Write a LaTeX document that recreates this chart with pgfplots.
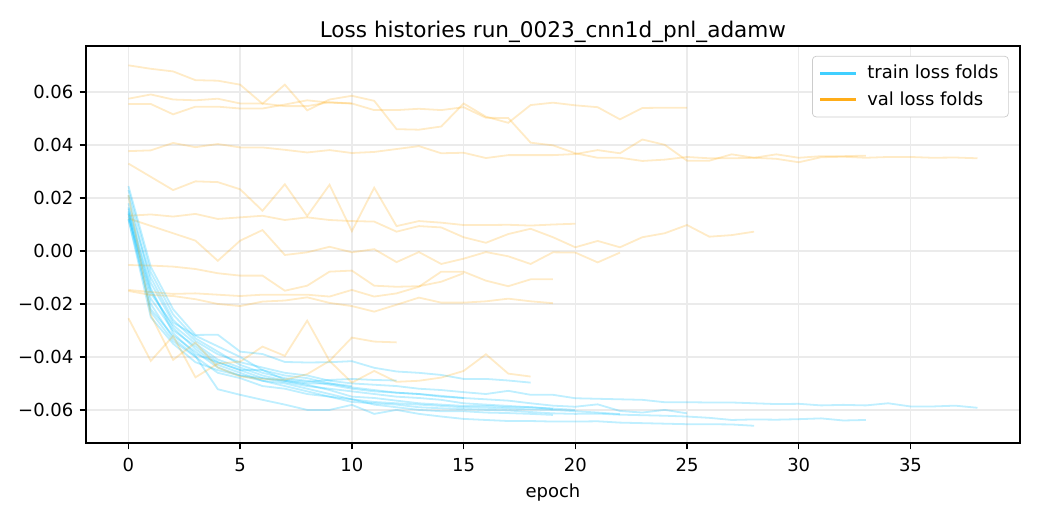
\documentclass[border=0pt]{standalone}
\usepackage{fontspec}
\setmainfont{DejaVu Sans}
\usepackage{pgfplots}
\pgfplotsset{compat=1.18}
\definecolor{trainc}{RGB}{0,191,255}
\definecolor{valc}{RGB}{255,165,0}
\begin{document}
\begin{tikzpicture}
\path[use as bounding box] (0,0) rectangle (578.16pt,289.08pt);
\begin{axis}[
  at={(47.8pt,42.8pt)}, anchor=south west,
  scale only axis, width=519.2pt, height=220.7pt,
  xmin=-1.9, xmax=39.9, ymin=-0.0725, ymax=0.0774,
  xtick={0,5,10,15,20,25,30,35},
  ytick={-0.06,-0.04,-0.02,0,0.02,0.04,0.06},
  yticklabels={−0.06,−0.04,−0.02,0.00,0.02,0.04,0.06},
  /pgf/number format/assume math mode=true,
  tick label style={font=\fontsize{10}{12}\selectfont},
  xticklabel style={yshift=-1.5pt},
  tick align=outside, tick pos=lower,
  major tick length=3.5pt,
  tick style={black, line width=0.8pt},
  axis line style={line width=0.8pt},
  xmajorgrids, ymajorgrids, grid style={black!8, line width=0.8pt},
  scaled y ticks=false,
  title={Loss histories run\_0023\_cnn1d\_pnl\_adamw},
  title style={font=\fontsize{12}{14}\selectfont, yshift=-7.5pt},
  xlabel={epoch},
  xlabel style={font=\fontsize{10}{12}\selectfont},
  legend style={at={(0.988,0.975)}, anchor=north east, draw=black!20, rounded corners=2pt,
    font=\fontsize{10}{12}\selectfont, inner xsep=3.5pt, inner ysep=3pt, row sep=1.5pt,
    /tikz/every odd column/.append style={column sep=3.5pt}},
  legend cell align=left,
  legend image code/.code={\draw[#1] (0pt,0pt) -- (20pt,0pt);},
  trn/.style={trainc, line width=1pt, opacity=0.25, forget plot},
  val/.style={valc, line width=1pt, opacity=0.22, forget plot},
]
\addlegendimage{trainc, opacity=0.75, line width=1.5pt}
\addlegendentry{train loss folds}
\addlegendimage{valc, opacity=0.9, line width=1.5pt}
\addlegendentry{val loss folds}

% fold: 25
\addplot[trn] coordinates {(0,0.0230)(1,-0.0080)(2,-0.0240)(3,-0.0330)(4,-0.0380)(5,-0.0430)(6,-0.0460)(7,-0.0480)(8,-0.0490)(9,-0.0505)(10,-0.0520)(11,-0.0530)(12,-0.0535)(13,-0.0540)(14,-0.0547)(15,-0.0555)(16,-0.0560)(17,-0.0565)(18,-0.0575)(19,-0.0584)(20,-0.0588)(21,-0.0579)(22,-0.0604)(23,-0.0610)(24,-0.0600)(25,-0.0613)};
\addplot[val] coordinates {(0,0.0701)(1,0.0688)(2,0.0678)(3,0.0645)(4,0.0643)(5,0.0628)(6,0.0556)(7,0.0628)(8,0.0531)(9,0.0572)(10,0.0586)(11,0.0567)(12,0.0460)(13,0.0458)(14,0.0470)(15,0.0557)(16,0.0507)(17,0.0484)(18,0.0551)(19,0.0560)(20,0.0550)(21,0.0543)(22,0.0497)(23,0.0540)(24,0.0541)(25,0.0541)};
% fold: 10
\addplot[trn] coordinates {(0,0.0120)(1,-0.0250)(2,-0.0350)(3,-0.0420)(4,-0.0450)(5,-0.0470)(6,-0.0480)(7,-0.0490)(8,-0.0500)(9,-0.0500)(10,-0.0510)};
\addplot[val] coordinates {(0,0.0575)(1,0.0591)(2,0.0572)(3,0.0569)(4,0.0575)(5,0.0557)(6,0.0557)(7,0.0547)(8,0.0547)(9,0.0562)(10,0.0557)};
% fold: 38
\addplot[trn] coordinates {(0,0.0180)(1,-0.0100)(2,-0.0260)(3,-0.0340)(4,-0.0390)(5,-0.0420)(6,-0.0440)(7,-0.0460)(8,-0.0470)(9,-0.0490)(10,-0.0500)(11,-0.0505)(12,-0.0510)(13,-0.0520)(14,-0.0525)(15,-0.0533)(16,-0.0540)(17,-0.0528)(18,-0.0543)(19,-0.0543)(20,-0.0556)(21,-0.0558)(22,-0.0560)(23,-0.0562)(24,-0.0571)(25,-0.0571)(26,-0.0572)(27,-0.0572)(28,-0.0575)(29,-0.0578)(30,-0.0577)(31,-0.0583)(32,-0.0581)(33,-0.0583)(34,-0.0575)(35,-0.0587)(36,-0.0587)(37,-0.0584)(38,-0.0592)};
\addplot[val] coordinates {(0,0.0555)(1,0.0555)(2,0.0516)(3,0.0545)(4,0.0545)(5,0.0538)(6,0.0538)(7,0.0553)(8,0.0569)(9,0.0560)(10,0.0557)(11,0.0532)(12,0.0532)(13,0.0537)(14,0.0532)(15,0.0543)(16,0.0503)(17,0.0502)(18,0.0409)(19,0.0399)(20,0.0369)(21,0.0352)(22,0.0352)(23,0.0340)(24,0.0345)(25,0.0355)(26,0.0350)(27,0.0350)(28,0.0352)(29,0.0348)(30,0.0335)(31,0.0354)(32,0.0356)(33,0.0352)(34,0.0355)(35,0.0355)(36,0.0352)(37,0.0353)(38,0.0350)};
% fold: 33
\addplot[trn] coordinates {(0,0.0160)(1,-0.0150)(2,-0.0290)(3,-0.0370)(4,-0.0430)(5,-0.0460)(6,-0.0490)(7,-0.0510)(8,-0.0530)(9,-0.0550)(10,-0.0570)(11,-0.0575)(12,-0.0580)(13,-0.0590)(14,-0.0594)(15,-0.0597)(16,-0.0600)(17,-0.0602)(18,-0.0608)(19,-0.0613)(20,-0.0615)(21,-0.0614)(22,-0.0618)(23,-0.0620)(24,-0.0622)(25,-0.0625)(26,-0.0630)(27,-0.0638)(28,-0.0636)(29,-0.0637)(30,-0.0635)(31,-0.0632)(32,-0.0640)(33,-0.0638)};
\addplot[val] coordinates {(0,0.0377)(1,0.0380)(2,0.0408)(3,0.0392)(4,0.0404)(5,0.0391)(6,0.0391)(7,0.0382)(8,0.0372)(9,0.0381)(10,0.0370)(11,0.0374)(12,0.0385)(13,0.0396)(14,0.0369)(15,0.0371)(16,0.0351)(17,0.0362)(18,0.0362)(19,0.0362)(20,0.0366)(21,0.0381)(22,0.0369)(23,0.0421)(24,0.0401)(25,0.0341)(26,0.0341)(27,0.0365)(28,0.0352)(29,0.0365)(30,0.0352)(31,0.0358)(32,0.0358)(33,0.0360)};
% fold: 20
\addplot[trn] coordinates {(0,0.0150)(1,-0.0180)(2,-0.0300)(3,-0.0360)(4,-0.0420)(5,-0.0450)(6,-0.0480)(7,-0.0495)(8,-0.0510)(9,-0.0520)(10,-0.0530)(11,-0.0540)(12,-0.0550)(13,-0.0555)(14,-0.0562)(15,-0.0575)(16,-0.0580)(17,-0.0585)(18,-0.0590)(19,-0.0595)(20,-0.0600)};
\addplot[val] coordinates {(0,0.0330)(1,0.0280)(2,0.0230)(3,0.0263)(4,0.0260)(5,0.0233)(6,0.0152)(7,0.0252)(8,0.0132)(9,0.0250)(10,0.0075)(11,0.0239)(12,0.0094)(13,0.0113)(14,0.0107)(15,0.0098)(16,0.0098)(17,0.0099)(18,0.0096)(19,0.0100)(20,0.0103)};
% fold: 28
\addplot[trn] coordinates {(0,0.0140)(1,-0.0200)(2,-0.0330)(3,-0.0397)(4,-0.0522)(5,-0.0543)(6,-0.0562)(7,-0.0580)(8,-0.0600)(9,-0.0600)(10,-0.0581)(11,-0.0615)(12,-0.0600)(13,-0.0615)(14,-0.0625)(15,-0.0634)(16,-0.0638)(17,-0.0642)(18,-0.0642)(19,-0.0644)(20,-0.0644)(21,-0.0643)(22,-0.0648)(23,-0.0650)(24,-0.0652)(25,-0.0654)(26,-0.0654)(27,-0.0655)(28,-0.0660)};
\addplot[val] coordinates {(0,0.0133)(1,0.0138)(2,0.0130)(3,0.0140)(4,0.0121)(5,0.0127)(6,0.0133)(7,0.0117)(8,0.0127)(9,0.0117)(10,0.0113)(11,0.0111)(12,0.0073)(13,0.0094)(14,0.0089)(15,0.0052)(16,0.0031)(17,0.0064)(18,0.0084)(19,0.0052)(20,0.0014)(21,0.0038)(22,0.0014)(23,0.0052)(24,0.0067)(25,0.0098)(26,0.0054)(27,0.0060)(28,0.0073)};
% fold: 22
\addplot[trn] coordinates {(0,0.0120)(1,-0.0220)(2,-0.0320)(3,-0.0380)(4,-0.0440)(5,-0.0470)(6,-0.0490)(7,-0.0500)(8,-0.0520)(9,-0.0540)(10,-0.0560)(11,-0.0570)(12,-0.0575)(13,-0.0580)(14,-0.0585)(15,-0.0590)(16,-0.0592)(17,-0.0595)(18,-0.0598)(19,-0.0600)(20,-0.0605)(21,-0.0610)(22,-0.0616)};
\addplot[val] coordinates {(0,0.0123)(1,0.0095)(2,0.0067)(3,0.0039)(4,-0.0037)(5,0.0039)(6,0.0079)(7,-0.0015)(8,-0.0005)(9,0.0016)(10,-0.0005)(11,0.0007)(12,-0.0042)(13,-0.0004)(14,-0.0049)(15,-0.0029)(16,-0.0004)(17,-0.0020)(18,-0.0049)(19,-0.0005)(20,-0.0006)(21,-0.0043)(22,-0.0006)};
% fold: 15
\addplot[trn] coordinates {(0,0.0210)(1,-0.0120)(2,-0.0270)(3,-0.0320)(4,-0.0360)(5,-0.0400)(6,-0.0450)(7,-0.0470)(8,-0.0480)(9,-0.0500)(10,-0.0515)(11,-0.0525)(12,-0.0535)(13,-0.0540)(14,-0.0550)(15,-0.0555)};
\addplot[val] coordinates {(0,-0.0053)(1,-0.0055)(2,-0.0059)(3,-0.0068)(4,-0.0084)(5,-0.0093)(6,-0.0093)(7,-0.0150)(8,-0.0131)(9,-0.0078)(10,-0.0074)(11,-0.0131)(12,-0.0135)(13,-0.0133)(14,-0.0116)(15,-0.0084)};
% fold: 19a
\addplot[trn] coordinates {(0,0.0130)(1,-0.0160)(2,-0.0280)(3,-0.0350)(4,-0.0410)(5,-0.0440)(6,-0.0470)(7,-0.0490)(8,-0.0505)(9,-0.0525)(10,-0.0550)(11,-0.0555)(12,-0.0565)(13,-0.0575)(14,-0.0580)(15,-0.0585)(16,-0.0585)(17,-0.0590)(18,-0.0590)(19,-0.0596)};
\addplot[val] coordinates {(0,-0.0147)(1,-0.0155)(2,-0.0162)(3,-0.0160)(4,-0.0165)(5,-0.0170)(6,-0.0165)(7,-0.0165)(8,-0.0165)(9,-0.0172)(10,-0.0147)(11,-0.0172)(12,-0.0160)(13,-0.0135)(14,-0.0078)(15,-0.0078)(16,-0.0112)(17,-0.0133)(18,-0.0107)(19,-0.0107)};
% fold: 19b
\addplot[trn] coordinates {(0,0.0145)(1,-0.0230)(2,-0.0340)(3,-0.0400)(4,-0.0460)(5,-0.0480)(6,-0.0510)(7,-0.0520)(8,-0.0540)(9,-0.0550)(10,-0.0560)(11,-0.0580)(12,-0.0590)(13,-0.0600)(14,-0.0605)(15,-0.0605)(16,-0.0610)(17,-0.0612)(18,-0.0615)(19,-0.0619)};
\addplot[val] coordinates {(0,-0.0151)(1,-0.0166)(2,-0.0170)(3,-0.0182)(4,-0.0200)(5,-0.0208)(6,-0.0191)(7,-0.0187)(8,-0.0175)(9,-0.0196)(10,-0.0208)(11,-0.0229)(12,-0.0203)(13,-0.0176)(14,-0.0195)(15,-0.0195)(16,-0.0190)(17,-0.0180)(18,-0.0190)(19,-0.0197)};
% fold: 12
\addplot[trn] coordinates {(0,0.0165)(1,-0.0140)(2,-0.0310)(3,-0.0390)(4,-0.0420)(5,-0.0449)(6,-0.0449)(7,-0.0486)(8,-0.0494)(9,-0.0487)(10,-0.0483)(11,-0.0487)(12,-0.0489)};
\addplot[val] coordinates {(0,-0.0254)(1,-0.0415)(2,-0.0321)(3,-0.0477)(4,-0.0425)(5,-0.0418)(6,-0.0361)(7,-0.0396)(8,-0.0263)(9,-0.0415)(10,-0.0327)(11,-0.0342)(12,-0.0345)};
% fold: 18
\addplot[trn] coordinates {(0,0.0245)(1,-0.0060)(2,-0.0220)(3,-0.0317)(4,-0.0316)(5,-0.0380)(6,-0.0389)(7,-0.0419)(8,-0.0421)(9,-0.0420)(10,-0.0416)(11,-0.0441)(12,-0.0455)(13,-0.0460)(14,-0.0468)(15,-0.0483)(16,-0.0483)(17,-0.0489)(18,-0.0497)};
\addplot[val] coordinates {(0,0.0211)(1,-0.0241)(2,-0.0411)(3,-0.0346)(4,-0.0440)(5,-0.0474)(6,-0.0484)(7,-0.0486)(8,-0.0465)(9,-0.0415)(10,-0.0497)(11,-0.0453)(12,-0.0494)(13,-0.0490)(14,-0.0478)(15,-0.0453)(16,-0.0390)(17,-0.0463)(18,-0.0474)};
\end{axis}
\end{tikzpicture}
\end{document}
